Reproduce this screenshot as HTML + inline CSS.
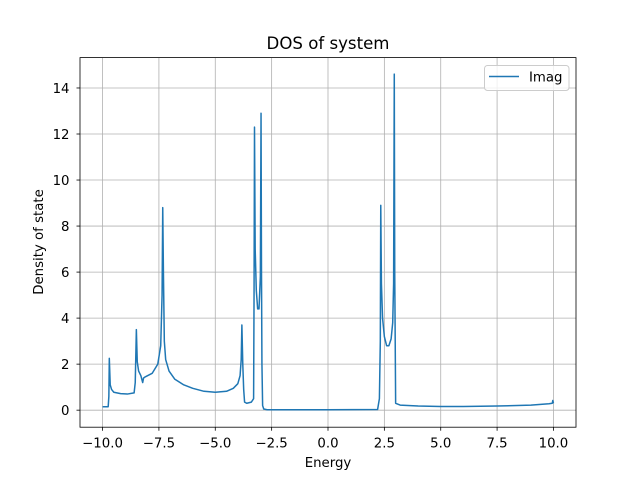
<!DOCTYPE html>
<html><head><meta charset="utf-8"><style>
body{margin:0;background:#fff;font-family:"Liberation Sans","DejaVu Sans",sans-serif}
svg text{font-family:"DejaVu Sans","Liberation Sans",sans-serif}
</style></head><body>
<svg id="chart" width="640" height="480">
<rect width="640" height="480" fill="#fff"/>
<g id="grid"></g>
<g id="axes"></g>
<path id="line" fill="none" stroke="#1f77b4" stroke-width="1.5" stroke-linejoin="round"/>
<rect x="80" y="57.6" width="496" height="369.6" fill="none" stroke="#000" stroke-width="0.8"/>
<text x="328" y="49" text-anchor="middle" font-size="16.6">DOS of system</text>
<text x="328" y="467" text-anchor="middle" font-size="13.3">Energy</text>
<text transform="translate(43,242) rotate(-90)" text-anchor="middle" font-size="13.3">Density of state</text>
<g>
<rect x="484.5" y="65.5" width="84.5" height="25" rx="3" fill="#fff" fill-opacity="0.8" stroke="#ccc"/>
<line x1="489" y1="76.5" x2="519" y2="76.5" stroke="#1f77b4" stroke-width="1.5"/>
<text x="529" y="81.5" font-size="13.3">Imag</text>
</g>
</svg>
<script>
const energy=[-10,-9.75,-9.74,-9.72,-9.7,-9.66,-9.6,-9.5,-9.2,-8.9,-8.6,-8.55,-8.5,-8.46,-8.4,-8.3,-8.22,-8.18,-8.1,-7.8,-7.55,-7.42,-7.36,-7.33,-7.3,-7.26,-7.2,-7.05,-6.8,-6.4,-6,-5.5,-5,-4.5,-4.2,-4,-3.9,-3.85,-3.82,-3.78,-3.74,-3.7,-3.6,-3.4,-3.3,-3.28,-3.26,-3.23,-3.18,-3.12,-3.06,-3.0,-2.97,-2.95,-2.93,-2.9,-2.85,-2.7,0,2.2,2.28,2.32,2.34,2.37,2.42,2.5,2.6,2.7,2.8,2.87,2.91,2.94,2.96,3.0,3.2,4,5,6,7.5,9,9.8,9.95,9.97,10];
const dos=[0.15,0.15,0.3,0.6,2.25,1.1,0.9,0.78,0.72,0.7,0.75,1.2,3.5,2.1,1.7,1.5,1.2,1.4,1.45,1.6,2.0,2.8,5,8.8,6,3,2.2,1.7,1.35,1.1,0.95,0.82,0.78,0.82,0.95,1.15,1.5,2.2,3.7,2.0,0.9,0.35,0.3,0.35,0.5,5,12.3,7,5.2,4.4,4.4,5.8,12.9,6,2,0.2,0.05,0.02,0.02,0.03,0.5,3,8.9,5.5,4,3.2,2.8,2.8,3.1,3.8,5.5,14.6,6,0.3,0.22,0.18,0.16,0.16,0.18,0.22,0.28,0.3,0.42,0.3];
const xTicks=[-10,-7.5,-5,-2.5,0,2.5,5,7.5,10];
const xTickLabels=["−10.0","−7.5","−5.0","−2.5","0.0","2.5","5.0","7.5","10.0"];
const yTicks=[0,2,4,6,8,10,12,14];
const yTickLabels=["0","2","4","6","8","10","12","14"];
const X0=80,X1=576,Y0=427.2,Y1=57.6,xmin=-11,xmax=11,ymin=-0.74,ymax=15.32;
const sx=v=>X0+(v-xmin)/(xmax-xmin)*(X1-X0);
const sy=v=>Y0-(v-ymin)/(ymax-ymin)*(Y0-Y1);
const NS="http://www.w3.org/2000/svg";
const grid=document.getElementById('grid'),axes=document.getElementById('axes');
function mk(tag,attrs,parent){const e=document.createElementNS(NS,tag);for(const k in attrs)e.setAttribute(k,attrs[k]);parent.appendChild(e);return e;}
xTicks.forEach((t,i)=>{const x=sx(t);
const g=mk('line',{x1:x,x2:x,y1:Y1,y2:Y0,stroke:'#b0b0b0','stroke-width':0.8},grid);


const tk=mk('line',{x1:x,x2:x,y1:Y0,y2:Y0+3.5,stroke:'#000','stroke-width':0.8},axes);


const tx=mk('text',{x:x,y:Y0+20.5,'text-anchor':'middle','font-size':13.3},axes);tx.textContent=xTickLabels[i];

});
yTicks.forEach((t,i)=>{const y=sy(t);
const g=mk('line',{x1:X0,x2:X1,y1:y,y2:y,stroke:'#b0b0b0','stroke-width':0.8},grid);


const tk=mk('line',{x1:X0-3.5,x2:X0,y1:y,y2:y,stroke:'#000','stroke-width':0.8},axes);


const tx=mk('text',{x:X0-10.5,y:y+5,'text-anchor':'end','font-size':13.3},axes);tx.textContent=yTickLabels[i];

});
document.getElementById('line').setAttribute('d',energy.map((e,i)=>(i?'L':'M')+sx(e).toFixed(2)+','+sy(dos[i]).toFixed(2)).join(''));
</script>
</body></html>
